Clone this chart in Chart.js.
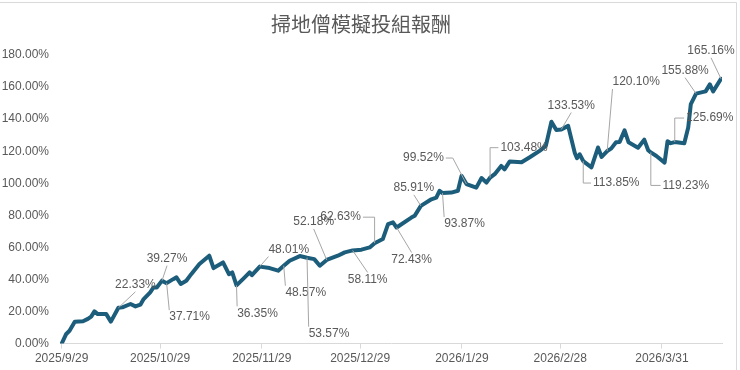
<!DOCTYPE html>
<html>
<head>
<meta charset="utf-8">
<script src="https://cdn.jsdelivr.net/npm/chart.js@4/dist/chart.umd.min.js"></script>
<style>
  body { margin: 0; background: #fff; }
  canvas { display: block; }
</style>
</head>
<body>
<canvas id="returnChart" width="740" height="370"></canvas>
<script>
// days since 2025/9/29 and cumulative return (%)
const dayOffsets = [
    0, 1.4, 2.4, 4, 6.5, 8, 9, 10, 11, 13.6, 15, 17.3, 18.5, 21, 22.5, 24, 25, 27, 28, 29,
    30.6, 32, 34, 35, 36.3, 38, 39.5, 42, 45, 46.3, 49.2, 51, 52, 53.3, 55.8, 57.3, 58, 60.4,
    63.4, 66, 67.7, 69.5, 72.6, 74.8, 77, 78.7, 80.8, 84.2, 86.3, 88.7, 91.4, 93.9, 95.4, 97.9,
    99.5, 101, 102.1, 106.6, 107.6, 109.5, 112.7, 114.2, 115.2, 116.1, 118.8, 120.8, 121.9,
    123.4, 126.4, 128, 129.5, 130.6, 132, 134, 135, 136.6, 140.2, 142.7, 145.7, 147.6, 149.3,
    150.8, 152.3, 154.4, 156.4, 157.1, 157.9, 159, 161.5, 163.5, 164.6, 166.3, 167.5, 169,
    170.1, 171.6, 172.8, 175.7, 177.6, 178.8, 179.6, 181.3, 183.8, 184.7, 185.7, 186.9, 189.8,
    191, 191.8, 193.4, 196.3, 197.6, 198.6, 201
];
const returnPct = [
    0, 6, 8, 13.7, 13.9, 15.4, 16.8, 20.1, 18.4, 18.4, 13.7, 22.33, 22.6, 24.7, 23.2, 24.3, 27.8, 32, 35, 35,
    39.27, 37.71, 40.2, 41.3, 37.2, 39.2, 43.3, 49.6, 54.8, 47.1, 50.6, 43.3, 44.4, 36.35, 41.3, 44.4, 42.7, 48.01,
    47.1, 45.5, 48.57, 51.7, 54.6, 53.57, 52.7, 48.6, 52.18, 54.8, 56.9, 58.11, 58.6, 60, 62.63, 65.2,
    74.5, 75.6, 72.43, 78.6, 79.7, 85.91, 90, 91, 95.3, 93.87, 94.2, 95.3, 104.6,
    99.52, 97.3, 103.3, 100.4, 103.48, 105.7, 110.8, 108.7, 113.6, 113.1, 116.2, 120.2, 123.3, 138.4,
    133.2, 133.53, 135.8, 119.1, 115.6, 118.1, 113.85, 109.9, 122.3, 116.4, 120.1, 121.6, 125.6,
    125.8, 133, 125.6, 122.2, 127.2, 120.6, 119.23, 117, 112.9, 126.2, 125, 125.69, 124.9,
    134.8, 149.4, 155.88, 157.3, 161.7, 157.3, 165.16
];

const tickDays = [0, 30, 61, 91, 122, 152, 183];
const tickLabels = ['2025/9/29', '2025/10/29', '2025/11/29', '2025/12/29', '2026/1/29', '2026/2/28', '2026/3/31'];

// labelled points (by day)
const calloutDays = [17.3, 30.6, 32, 53.3, 60.4, 67.7, 74.8, 80.8, 95.4, 88.7, 102.1, 109.5, 116.1,
    123.4, 130.6, 152.3, 159, 166.3, 179.6, 186.9, 193.4, 201];

// where each label sits relative to its point (px), elbow = leader with a horizontal stub
const calloutLayout = {
    17.3: { dx: 17, dy: -23 }, 30.6: { dx: 5, dy: -22 }, 32: { dx: 23, dy: 34 },
    53.3: { dx: 21, dy: 28 }, 60.4: { dx: 29, dy: -17 }, 67.7: { dx: 22, dy: 27 },
    74.8: { dx: 22, dy: 76 }, 80.8: { dx: -13, dy: -38 }, 95.4: { dx: -34, dy: -26, elbow: true },
    88.7: { dx: 15, dy: 29 }, 102.1: { dx: 15, dy: 32 }, 109.5: { dx: -7, dy: -18 },
    116.1: { dx: 22, dy: 31 }, 123.4: { dx: -43, dy: -26, elbow: true }, 130.6: { dx: 34, dy: -30, elbow: true },
    152.3: { dx: 10, dy: -24 }, 159: { dx: 33, dy: 22, elbow: true }, 166.3: { dx: 29, dy: -69 },
    179.6: { dx: 35, dy: 33, elbow: true }, 186.9: { dx: 35, dy: -24, elbow: true },
    193.4: { dx: -11, dy: -23 }, 201: { dx: -10, dy: -28 }
};

const textColor = '#595959';
const fontFamily = '"Liberation Sans", Arial, sans-serif';

const calloutPlugin = {
    id: 'callouts',
    afterDatasetsDraw(chart) {
        const ctx = chart.ctx;
        const xs = chart.scales.x, ys = chart.scales.y;
        ctx.save();
        ctx.font = '12px ' + fontFamily;
        ctx.textAlign = 'center';
        ctx.textBaseline = 'middle';
        calloutDays.forEach(day => {
            const i = dayOffsets.indexOf(day);
            const lay = calloutLayout[day];
            const px = xs.getPixelForValue(day);
            const py = ys.getPixelForValue(returnPct[i]);
            const text = returnPct[i].toFixed(2) + '%';
            const cx = px + lay.dx, cy = py + lay.dy;
            const w = ctx.measureText(text).width, h = 10;
            const left = cx - w / 2 - 2, right = cx + w / 2 + 2;
            const top = cy - h / 2 - 2, bottom = cy + h / 2 + 2;

            ctx.strokeStyle = '#a6a6a6';
            ctx.lineWidth = 1;
            ctx.beginPath();
            if (lay.elbow) {
                const ex = lay.dx > 0 ? left : right;
                let sx = lay.dx > 0 ? ex - 7 : ex + 7;
                if (Math.abs(px - ex) < 14) sx = px;
                ctx.moveTo(ex, cy);
                ctx.lineTo(sx, cy);
                ctx.lineTo(px, py);
            } else {
                let ax = cx;
                if (Math.abs(lay.dx) > w / 2) ax = lay.dx > 0 ? left + 2 : right - 2;
                const ay = lay.dy > 0 ? top : bottom;
                ctx.moveTo(ax, ay);
                ctx.lineTo(px, py);
            }
            ctx.stroke();

            ctx.fillStyle = textColor;
            ctx.fillText(text, cx, cy);
        });
        ctx.restore();
    }
};

const framePlugin = {
    id: 'frame',
    beforeDraw(chart) {
        const ctx = chart.ctx;
        ctx.save();
        ctx.fillStyle = '#fff';
        ctx.fillRect(0, 0, chart.width, chart.height);
        ctx.strokeStyle = '#d9d9d9';
        ctx.lineWidth = 1;
        ctx.beginPath();
        ctx.moveTo(0, 2.5);
        ctx.lineTo(736.5, 2.5);
        ctx.lineTo(736.5, chart.height);
        ctx.stroke();
        ctx.restore();
    }
};

const points = dayOffsets.map((d, i) => ({ x: d, y: returnPct[i] }));

new Chart(document.getElementById('returnChart').getContext('2d'), {
    type: 'line',
    data: {
        datasets: [{
            data: points,
            borderColor: '#1c5d7b',
            borderWidth: 4,
            borderJoinStyle: 'round',
            borderCapStyle: 'round',
            pointRadius: 0,
            tension: 0
        }]
    },
    options: {
        responsive: false,
        animation: false,
        layout: { padding: { left: 0, right: 18, top: 0, bottom: 1 } },
        plugins: {
            legend: { display: false },
            tooltip: { enabled: false },
            title: {
                display: true,
                text: '掃地僧模擬投組報酬',
                color: textColor,
                font: { family: '"Noto Sans CJK TC", sans-serif', size: 20, weight: 'normal' },
                padding: { top: 12, bottom: 19 }
            }
        },
        scales: {
            x: {
                type: 'linear',
                min: -0.5,
                max: 201.3,
                afterBuildTicks: scale => {
                    scale.ticks = tickDays.map(v => ({ value: v }));
                },
                ticks: {
                    autoSkip: false,
                    maxRotation: 0,
                    padding: 3,
                    color: textColor,
                    font: { family: fontFamily, size: 12 },
                    callback: (value, index) => tickLabels[index]
                },
                grid: { drawOnChartArea: false, tickLength: 5, color: '#d9d9d9' },
                border: { color: '#d9d9d9' }
            },
            y: {
                min: 0,
                max: 180,
                afterFit: scale => { scale.width = 60; },
                ticks: {
                    stepSize: 20,
                    padding: 11,
                    color: textColor,
                    font: { family: fontFamily, size: 12 },
                    callback: value => value.toFixed(2) + '%'
                },
                grid: { display: false, drawTicks: false },
                border: { display: false }
            }
        }
    },
    plugins: [framePlugin, calloutPlugin]
});
</script>
</body>
</html>
